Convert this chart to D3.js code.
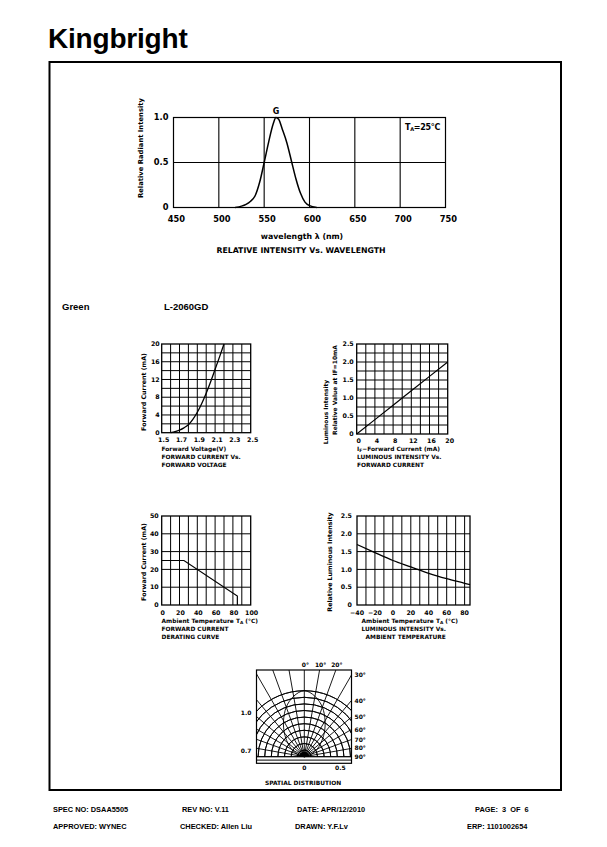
<!DOCTYPE html>
<html><head><meta charset="utf-8">
<script src="https://cdn.jsdelivr.net/npm/d3@7"></script>
<style>
body{margin:0;background:#fff;}
svg{display:block;}
text{font-family:"DejaVu Sans",sans-serif;font-weight:bold;fill:#000;}
.ar{font-family:"Liberation Sans",Arial,sans-serif;}
</style></head><body>
<svg id="c" width="607" height="847"></svg>
<script>
// ---------- DATA ----------
const specWavelength = [518,525,530,535,540,545,550,555,560,563,566,570,575,580,585,590,595,600,608];
const specIntensity  = [0,0.015,0.035,0.07,0.13,0.28,0.5,0.73,0.93,1.0,0.98,0.87,0.72,0.52,0.32,0.16,0.06,0.02,0];
const specXTicks = [450,500,550,600,650,700,750];
const specYTicks = [0,0.5,1.0];
const specYLabels = ["0","0.5","1.0"];

const fvVoltage = [1.6,1.65,1.7,1.75,1.8,1.85,1.9,1.95,2.0,2.05,2.1,2.15,2.2];
const fvCurrent = [0,0.25,0.6,1.1,1.8,3.0,4.6,6.6,8.9,11.5,14.3,17.1,20];
const fvXTicks = [1.5,1.7,1.9,2.1,2.3,2.5];
const fvXLabels = ["1.5","1.7","1.9","2.1","2.3","2.5"];
const fvYTicks = [0,4,8,12,16,20];

const liCurrent = [0,4,8,12,16,20];
const liRelative = [0,0.4,0.8,1.2,1.6,2.0];
const liXTicks = [0,4,8,12,16,20];
const liYTicks = [0,0.5,1.0,1.5,2.0,2.5];
const liYLabels = ["0","0.5","1.0","1.5","2.0","2.5"];

const drTemp = [0,25,85,85];
const drCurrent = [25,25,5,0];
const drXTicks = [0,20,40,60,80,100];
const drYTicks = [0,10,20,30,40,50];

const ltTemp = [-40,-20,0,20,40,60,80,86];
const ltRelative = [1.70,1.47,1.25,1.07,0.89,0.74,0.61,0.57];
const ltXTicks = [-40,-20,0,20,40,60,80];
const ltXLabels = ["\u221240","\u221220","0","20","40","60","80"];
const ltYTicks = [0,0.5,1.0,1.5,2.0,2.5];
const ltYLabels = ["0","0.5","1.0","1.5","2.0","2.5"];

const spAngles = [0,10,20,30,40,50,60,70,80,90];
const spIntensity = [1.0,0.93,0.8,0.63,0.47,0.33,0.22,0.12,0.05,0];
const spRings = [0.1,0.2,0.3,0.4,0.5,0.6,0.7,0.8,0.9,1.0];
const spGridAngles = [-90,-80,-70,-60,-50,-40,-30,-20,-10,0,10,20,30,40,50,60,70,80,90];
const spLabelAngles = [0,10,20,30,40,50,60,70,80,90];

const footerRow1 = ["SPEC NO: DSAA5505","REV NO: V.11","DATE: APR/12/2010","PAGE:  3  OF  6"];
const footerRow2 = ["APPROVED: WYNEC","CHECKED: Allen Liu","DRAWN: Y.F.Lv","ERP: 1101002654"];

// ---------- DRAW ----------
const svg = d3.select("#c");

// logo
svg.append("text").attr("x",48).attr("y",48)
  .attr("font-size",28).attr("font-weight",900).attr("letter-spacing",-0.2)
  .style("font-family","'Liberation Sans',Arial,sans-serif").text("Kingbright");

// frame
svg.append("rect").attr("x",49.5).attr("y",62).attr("width",511.5).attr("height",728)
  .attr("fill","none").attr("stroke","#000").attr("stroke-width",2);

function gridChart(o){
  const g = svg.append("g");
  const x = d3.scaleLinear().domain(o.xd).range(o.xr);
  const y = d3.scaleLinear().domain(o.yd).range(o.yr);
  g.selectAll(".vg").data(o.xGrid).join("line")
    .attr("x1",d=>x(d)).attr("x2",d=>x(d)).attr("y1",o.yr[0]).attr("y2",o.yr[1])
    .attr("stroke","#000").attr("stroke-width",o.gw||1);
  g.selectAll(".hg").data(o.yGrid).join("line")
    .attr("y1",d=>y(d)).attr("y2",d=>y(d)).attr("x1",o.xr[0]).attr("x2",o.xr[1])
    .attr("stroke","#000").attr("stroke-width",o.gw||1);
  g.append("rect").attr("x",o.xr[0]).attr("y",o.yr[1]).attr("width",o.xr[1]-o.xr[0]).attr("height",o.yr[0]-o.yr[1])
    .attr("fill","none").attr("stroke","#000").attr("stroke-width",o.bw||1.3);
  g.selectAll(".xt").data(o.xTicks).join("text")
    .attr("x",(d)=>x(d)+(o.xlOff||0)).attr("y",o.yr[0]+o.xlDy).attr("text-anchor","middle")
    .attr("font-size",o.fs).text((d,i)=>o.xLabels?o.xLabels[i]:d);
  g.selectAll(".yt").data(o.yTicks).join("text")
    .attr("x",o.xr[0]-o.ylDx).attr("y",d=>y(d)).attr("dy","0.35em").attr("text-anchor","end")
    .attr("font-size",o.fs).text((d,i)=>o.yLabels?o.yLabels[i]:d);
  const line = d3.line().x(d=>x(d[0])).y(d=>y(d[1])).curve(o.curve||d3.curveLinear);
  g.append("path").datum(d3.zip(o.cx,o.cy)).attr("d",line)
    .attr("fill","none").attr("stroke","#000").attr("stroke-width",o.lw||1.4);
  return {x,y,g};
}

// ---- spectrum chart ----
const sp = gridChart({xd:[450,750],xr:[173.5,445.5],yd:[0,1],yr:[207.5,117.5],
  xGrid:[500,550,600,650,700],yGrid:[0.5],xTicks:specXTicks,yTicks:specYTicks,yLabels:specYLabels,
  xlDy:14,ylDx:5,xlOff:3,fs:8.3,cx:specWavelength,cy:specIntensity,curve:d3.curveMonotoneX,lw:1.5,bw:1.2,gw:1.1});
sp.g.append("text").attr("x",sp.x(563)).attr("y",114).attr("text-anchor","middle").attr("font-size",8).text("G");
const ta = sp.g.append("text").attr("x",405).attr("y",130).attr("font-size",8).attr("letter-spacing",-0.3);
ta.append("tspan").text("T");
ta.append("tspan").attr("font-size",5).attr("dy",1).text("A");
ta.append("tspan").attr("dy",-1).text("=25\u00B0C");
svg.append("text").attr("transform","translate(143,148) rotate(-90)").attr("text-anchor","middle")
  .attr("font-size",6.8).text("Relative  Radiant  Intensity");
svg.append("text").attr("x",302).attr("y",239).attr("text-anchor","middle").attr("font-size",7.8).text("wavelength  \u03BB   (nm)");
svg.append("text").attr("x",301).attr("y",253).attr("text-anchor","middle").attr("font-size",7.8).text("RELATIVE  INTENSITY  Vs.  WAVELENGTH");

// ---- Green / part ----
svg.append("text").style("font-family","'Liberation Sans',Arial,sans-serif").attr("x",62).attr("y",310).attr("font-size",9.5).text("Green");
svg.append("text").style("font-family","'Liberation Sans',Arial,sans-serif").attr("x",164).attr("y",310).attr("font-size",9.5).text("L-2060GD");

const smallFs = 6.3;
function titleLines(x,y0,lines,fs,indents){
  lines.forEach((t,i)=>{
    svg.append("text").attr("x",x+(indents?indents[i]:0)).attr("y",y0+i*8).attr("font-size",fs).html(t);
  });
}
function rotLabel(x,y,t,fs,anchor){
  svg.append("text").attr("transform",`translate(${x},${y}) rotate(-90)`).attr("text-anchor",anchor||"middle")
    .attr("font-size",fs).html(t);
}

// ---- Forward current vs voltage ----
const fv = gridChart({xd:[1.5,2.5],xr:[161.7,250.7],yd:[0,20],yr:[432.7,344],
  xGrid:d3.range(1.6,2.45,0.1),yGrid:d3.range(2,19,2),xTicks:fvXTicks,xLabels:fvXLabels,yTicks:fvYTicks,
  xlDy:9,ylDx:2,xlOff:2,fs:smallFs,cx:fvVoltage,cy:fvCurrent,curve:d3.curveMonotoneX,lw:1.3});
rotLabel(146,392,"Forward  Current  (mA)",smallFs);
titleLines(161.5,450.5,["Forward  Voltage(V)","FORWARD  CURRENT  Vs.","FORWARD  VOLTAGE"],5.9);

// ---- Luminous intensity vs IF ----
const li = gridChart({xd:[0,20],xr:[356.7,447.7],yd:[0,2.5],yr:[434,344],
  xGrid:d3.range(2,19,2),yGrid:d3.range(0.25,2.4,0.25),xTicks:liXTicks,yTicks:liYTicks,yLabels:liYLabels,
  xlDy:9,ylDx:3,xlOff:2,fs:smallFs,cx:liCurrent,cy:liRelative,lw:1.2});
rotLabel(328,412,"Luminous  Intensity",smallFs*0.95);
rotLabel(336.5,390,"Relative  Value  at  IF=10mA",smallFs*0.95);
titleLines(357,450.5,["I<tspan font-size='4.5' dy='1'>F</tspan><tspan dy='-1'>\u2212Forward  Current  (mA)</tspan>","LUMINOUS  INTENSITY  Vs.","FORWARD  CURRENT"],5.9);

// ---- Derating ----
const dr = gridChart({xd:[0,100],xr:[161.7,250.7],yd:[0,50],yr:[605,516],
  xGrid:d3.range(10,95,10),yGrid:d3.range(10,45,10),xTicks:drXTicks,yTicks:drYTicks,
  xlDy:9.5,ylDx:3,xlOff:1,fs:smallFs,cx:drTemp,cy:drCurrent,lw:1.2});
rotLabel(146,562,"Forward  Current  (mA)",smallFs);
titleLines(161.5,622.5,["Ambient  Temperature  T<tspan font-size='4.3' dy='1'>A</tspan><tspan dy='-1'> (\u00B0C)</tspan>","FORWARD  CURRENT","DERATING  CURVE"],5.9);

// ---- Luminous vs temperature ----
const lt = gridChart({xd:[-40,86],xr:[357,470],yd:[0,2.5],yr:[605,516],
  xGrid:d3.range(-30,85,10),yGrid:d3.range(0.5,2.4,0.5),xTicks:ltXTicks,xLabels:ltXLabels,yTicks:ltYTicks,yLabels:ltYLabels,
  xlDy:9.5,ylDx:5,xlOff:0,fs:smallFs,cx:ltTemp,cy:ltRelative,curve:d3.curveMonotoneX,lw:1.3});
rotLabel(332,562,"Relative  Luminous  Intensity",smallFs);
titleLines(361.5,622.5,["Ambient  Temperature  T<tspan font-size='4.3' dy='1'>A</tspan><tspan dy='-1'> (\u00B0C)</tspan>","LUMINOUS  INTENSITY  Vs.","AMBIENT  TEMPERATURE"],5.9,[0,0,4]);

// ---- Spatial distribution ----
const box = {l:256.5,r:351.5,t:670,b:763.3};
const scx = d3.scaleLinear().domain([-1,1]).range([238.3,370.3]);
const sr = d3.scaleLinear().domain([0,1]).range([0,66]);
const cxp = scx(0), cyp = 756.7;
const spg = svg.append("g");
svg.append("clipPath").attr("id","spclip").append("rect")
  .attr("x",box.l).attr("y",box.t).attr("width",box.r-box.l).attr("height",box.b-box.t);
const inner = spg.append("g").attr("clip-path","url(#spclip)");
function rayEnd(a){
  const rad=a*Math.PI/180, s=Math.sin(rad), c=Math.cos(rad);
  let t=Infinity, side="top";
  if(s>1e-9){const tt=(box.r-cxp)/s; if(tt<t){t=tt;side="right";}}
  if(s<-1e-9){const tt=(box.l-cxp)/s; if(tt<t){t=tt;side="left";}}
  if(c>1e-9){const tt=(cyp-box.t)/c; if(tt<t){t=tt;side="top";}}
  return {x:cxp+t*s,y:cyp-t*c,side};
}
inner.selectAll(".ray").data(spGridAngles).join("line")
  .attr("x1",cxp).attr("y1",cyp).attr("x2",d=>rayEnd(d).x).attr("y2",d=>rayEnd(d).y)
  .attr("stroke","#000").attr("stroke-width",0.9);
const arcGen = d3.arc().startAngle(-Math.PI/2).endAngle(Math.PI/2);
inner.selectAll(".ring").data(spRings).join("path")
  .attr("transform",`translate(${cxp},${cyp})`)
  .attr("d",d=>arcGen({innerRadius:sr(d),outerRadius:sr(d)}))
  .attr("fill","none").attr("stroke","#000").attr("stroke-width",0.9);
const lobePts = spAngles.slice().reverse().map((a,i)=>[-a, spIntensity[spAngles.length-1-i]])
  .concat(spAngles.slice(1).map((a,i)=>[a, spIntensity[i+1]]));
const lobe = d3.lineRadial().angle(d=>d[0]*Math.PI/180).radius(d=>sr(d[1])).curve(d3.curveCardinal);
inner.append("path").datum(lobePts).attr("transform",`translate(${cxp},${cyp})`).attr("d",lobe)
  .attr("fill","none").attr("stroke","#000").attr("stroke-width",0.9);
// base lines
inner.selectAll(".base").data([0,3.4]).join("line")
  .attr("x1",box.l).attr("x2",box.r).attr("y1",d=>cyp+d).attr("y2",d=>cyp+d)
  .attr("stroke","#000").attr("stroke-width",1);
// center blob (half disc)
const blob = d3.arc().innerRadius(0).outerRadius(sr(0.075)).startAngle(-Math.PI/2).endAngle(Math.PI/2);
inner.append("path").attr("transform",`translate(${cxp},${cyp})`).attr("d",blob()).attr("fill","#000");
spg.append("rect").attr("x",box.l).attr("y",box.t).attr("width",box.r-box.l).attr("height",box.b-box.t)
  .attr("fill","none").attr("stroke","#000").attr("stroke-width",1.2);
// angle labels
spLabelAngles.forEach(a=>{
  const e = rayEnd(a);
  if(e.side==="top"){
    spg.append("text").attr("x",e.x+1).attr("y",box.t-3).attr("text-anchor","middle").attr("font-size",6).text(a+"\u00B0");
  } else {
    spg.append("text").attr("x",box.r+3).attr("y",Math.max(e.y, box.t+3)).attr("dy","0.35em").attr("font-size",6).text(a+"\u00B0");
  }
});
// left labels
const edgeY1 = cyp - Math.sqrt(sr(1)**2 - (cxp-box.l)**2);
spg.append("text").attr("x",box.l-5).attr("y",edgeY1+2).attr("dy","0.35em").attr("text-anchor","end").attr("font-size",6).text("1.0");
spg.append("text").attr("x",box.l-5).attr("y",cyp-6).attr("dy","0.35em").attr("text-anchor","end").attr("font-size",6).text("0.7");
// bottom labels
spg.append("text").attr("x",scx(0)).attr("y",box.b+7).attr("text-anchor","middle").attr("font-size",6).text("0");
spg.append("text").attr("x",scx(0)+sr(0.5)+3).attr("y",box.b+7).attr("text-anchor","middle").attr("font-size",6).text("0.5");
svg.append("text").attr("x",303).attr("y",785).attr("text-anchor","middle").attr("font-size",5.9).text("SPATIAL  DISTRIBUTION");

// ---- footer ----
const fx1 = [53,182,297,475], fx2 = [53,180,295,467];
footerRow1.forEach((t,i)=>svg.append("text").style("font-family","'Liberation Sans',Arial,sans-serif")
  .attr("x",fx1[i]).attr("y",812).attr("font-size",7.4).style("white-space","pre").text(t));
footerRow2.forEach((t,i)=>svg.append("text").style("font-family","'Liberation Sans',Arial,sans-serif")
  .attr("x",fx2[i]).attr("y",829).attr("font-size",7.4).text(t));
</script>
</body></html>
